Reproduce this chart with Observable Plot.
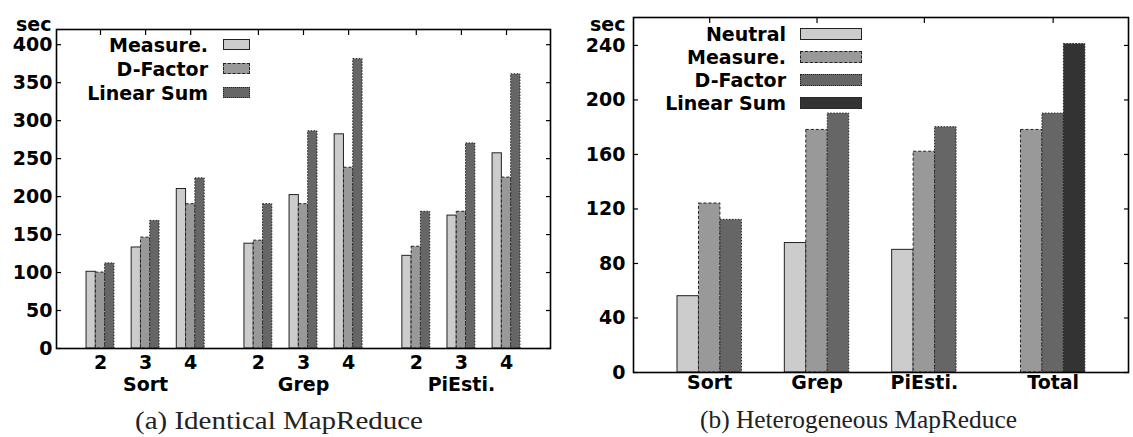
<!DOCTYPE html>
<html>
<head>
<meta charset="utf-8">
<script src="https://cdn.jsdelivr.net/npm/d3@7"></script>
<script src="https://cdn.jsdelivr.net/npm/@observablehq/plot@0.6"></script>
<style>
  html, body { margin: 0; padding: 0; background: #fff; }
  #wrap { position: relative; width: 1133px; height: 437px; overflow: hidden; background: #fff; }
  .panel { position: absolute; top: 0; }
  .lg-text { position: absolute; text-align: right; font-family: "DejaVu Sans"; font-weight: bold; font-size: 19px; line-height: 22px; height: 22px; white-space: nowrap; color: #000; }
  .lg-swatch { position: absolute; box-sizing: border-box; border-width: 1px; border-color: #222; }
</style>
</head>
<body>
<div id="wrap"></div>
<script>
// ---------- Data: (a) Identical MapReduce ----------
const leftGroups = ["Sort", "Grep", "PiEsti."];
const leftNodes = ["2", "3", "4"];
const leftSeries = ["Measure.", "D-Factor", "Linear Sum"];
const leftMeasure = [101, 133, 210, 138, 202, 282, 122, 175, 257];
const leftDFactor = [100, 146, 190, 142, 190, 238, 134, 180, 225];
const leftLinear  = [112, 168, 224, 190, 286, 381, 180, 270, 361];
const leftYTicks = [0, 50, 100, 150, 200, 250, 300, 350, 400];
const leftCaption = "(a) Identical MapReduce";

// ---------- Data: (b) Heterogeneous MapReduce ----------
const rightCategories = ["Sort", "Grep", "PiEsti.", "Total"];
const rightSeries = ["Neutral", "Measure.", "D-Factor", "Linear Sum"];
const rightNeutral = [56, 95, 90, null];
const rightMeasure = [124, 178, 162, 178];
const rightDFactor = [112, 190, 180, 190];
const rightLinear  = [null, null, null, 241];
const rightYTicks = [0, 40, 80, 120, 160, 200, 240];
const rightCaption = "(b) Heterogeneous MapReduce";

const unitLabel = "sec";

// ---------- Styles ----------
const leftColors = ["#cccccc", "#999999", "#666666"];
const leftDash = [null, "3,2", "1.5,1.5"];
const leftBorder = ["solid", "dashed", "dotted"];
const rightColors = ["#cccccc", "#999999", "#666666", "#333333"];
const rightDash = [null, "3,2", "1.5,1.5", "1.5,1.5"];
const rightBorder = ["solid", "dashed", "dotted", "dotted"];

const wrap = document.getElementById("wrap");
const svgStyle = {fontFamily: "DejaVu Sans", fontSize: "19px", fontWeight: "bold", color: "#000", background: "transparent", overflow: "visible"};

// ---------- Left chart ----------
{
  const values = [leftMeasure, leftDFactor, leftLinear];
  const groupGap = 0.5;
  const bw = 0.206;
  const rows = [];
  const tickPos = [], tickLab = new Map();
  leftGroups.forEach((g, gi) => {
    const ps = [];
    leftNodes.forEach((n, ni) => {
      const pos = gi * (leftNodes.length + groupGap) + ni;
      ps.push(pos);
      tickPos.push(pos); tickLab.set(pos, n);
      leftSeries.forEach((s, si) => {
        rows.push({group: g, node: n, series: s, si, pos, value: values[si][gi * leftNodes.length + ni]});
      });
    });
    // group name is written under the middle node label (same centre)
    const c = d3.mean(ps);
    tickLab.set(c, (tickLab.get(c) ?? "") + "\n" + g);
  });
  const mid = (leftSeries.length - 1) / 2;
  const plot = Plot.plot({
    width: 567, height: 395,
    marginLeft: 56, marginRight: 17, marginTop: 29, marginBottom: 47,
    style: svgStyle,
    x: {domain: [-0.975, 9.975], label: null},
    y: {domain: [0, 420], label: null},
    marks: [
      ...leftSeries.map((s, si) => Plot.rect(rows.filter(d => d.si === si), {
        x1: d => d.pos + (d.si - mid) * bw - bw / 2,
        x2: d => d.pos + (d.si - mid) * bw + bw / 2,
        y1: d => 0, y2: "value",
        fill: leftColors[si], stroke: "#222", strokeWidth: 1, strokeDasharray: leftDash[si]
      })),
      Plot.frame({stroke: "#000", strokeWidth: 1.6}),
      Plot.axisY({ticks: leftYTicks, tickSize: 0, tickPadding: 4, label: null}),
      Plot.axisY({anchor: "left", ticks: leftYTicks, tickSize: 5, dx: 5, fill: "none", label: null, strokeWidth: 1.2}),
      Plot.axisY({anchor: "right", ticks: leftYTicks, tickSize: 5, dx: -5, fill: "none", label: null, strokeWidth: 1.2}),
      Plot.axisX({anchor: "top", ticks: tickPos, tickSize: 5, dy: 5, fill: "none", label: null, strokeWidth: 1.2}),
      Plot.axisX({anchor: "bottom", ticks: tickPos, tickFormat: p => tickLab.get(p), tickSize: 0, tickPadding: 4.5, lineHeight: 1.17, label: null}),
      Plot.text([unitLabel], {frameAnchor: "top-left", text: d => d, textAnchor: "end", dx: -5, dy: -12})
    ]
  });
  const div = document.createElement("div");
  div.className = "panel"; div.style.left = "0px"; div.style.width = "567px";
  div.appendChild(plot);
  wrap.appendChild(div);
}

// ---------- Right chart ----------
{
  const values = [rightNeutral, rightMeasure, rightDFactor, rightLinear];
  const rows = [];
  const catPos = [], catLab = new Map();
  rightCategories.forEach((c, ci) => {
    const slots = [];
    rightSeries.forEach((s, si) => {
      const v = values[si][ci];
      const slot = ci * (rightSeries.length + 1) + si;
      if (v != null) { rows.push({cat: c, series: s, si, slot, value: v}); slots.push(slot); }
    });
    const m = d3.mean(slots);
    catPos.push(m); catLab.set(m, c);
  });
  const plot = Plot.plot({
    width: 566, height: 402,
    marginLeft: 66, marginRight: 5, marginTop: 17, marginBottom: 30,
    style: svgStyle,
    x: {domain: [-2.55, 20.51], label: null},
    y: {domain: [0, 260.5], label: null},
    marks: [
      ...rightSeries.map((s, si) => Plot.rect(rows.filter(d => d.si === si), {
        x1: d => d.slot - 0.5, x2: d => d.slot + 0.5,
        y1: d => 0, y2: "value",
        fill: rightColors[si], stroke: "#222", strokeWidth: 1, strokeDasharray: rightDash[si]
      })),
      Plot.frame({stroke: "#000", strokeWidth: 1.6}),
      Plot.axisY({ticks: rightYTicks, tickSize: 0, tickPadding: 8, label: null}),
      Plot.axisY({anchor: "left", ticks: rightYTicks, tickSize: 5, dx: 5, fill: "none", label: null, strokeWidth: 1.2}),
      Plot.axisY({anchor: "right", ticks: rightYTicks, tickSize: 5, dx: -5, fill: "none", label: null, strokeWidth: 1.2}),
      Plot.axisX({anchor: "top", ticks: catPos, tickSize: 5, dy: 5, fill: "none", label: null, strokeWidth: 1.2}),
      Plot.axisX({anchor: "bottom", ticks: catPos, tickFormat: p => catLab.get(p), tickSize: 0, tickPadding: 3, label: null}),
      Plot.text([unitLabel], {frameAnchor: "top-left", text: d => d, textAnchor: "end", dx: -8, dy: 0})
    ]
  });
  const div = document.createElement("div");
  div.className = "panel"; div.style.left = "567px"; div.style.width = "566px";
  div.appendChild(plot);
  wrap.appendChild(div);
}

// ---------- Legends (HTML, placed over the plots) ----------
function addLegend(names, colors, borders, o) {
  const boxW = 128;
  names.forEach((name, i) => {
    const cy = o.top0 + i * o.step;
    const t = document.createElement("div");
    t.className = "lg-text";
    t.textContent = name;
    t.style.left = (o.textRight - boxW) + "px";
    t.style.width = boxW + "px";
    t.style.top = (cy - 11) + "px";
    wrap.appendChild(t);
    const sw = document.createElement("div");
    sw.className = "lg-swatch";
    sw.style.left = o.swatchLeft + "px";
    sw.style.width = o.swatchW + "px";
    sw.style.height = o.swatchH + "px";
    sw.style.top = (cy - o.swatchH / 2) + "px";
    sw.style.background = colors[i];
    sw.style.borderStyle = borders[i];
    wrap.appendChild(sw);
  });
}
addLegend(leftSeries, leftColors, leftBorder, {top0: 44.5, step: 24, textRight: 208, swatchLeft: 223, swatchW: 27, swatchH: 11});
addLegend(rightSeries, rightColors, rightBorder, {top0: 33.8, step: 23.2, textRight: 786, swatchLeft: 800, swatchW: 62, swatchH: 12});

// ---------- Captions ----------
function addCaption(text, cx, baseline, len) {
  const ns = "http://www.w3.org/2000/svg";
  const svg = document.createElementNS(ns, "svg");
  svg.setAttribute("width", len + 20); svg.setAttribute("height", 40);
  svg.style.position = "absolute";
  svg.style.left = (cx - len / 2 - 10) + "px";
  svg.style.top = (baseline - 30) + "px";
  const t = document.createElementNS(ns, "text");
  t.setAttribute("x", 10);
  t.setAttribute("y", 30);
  t.setAttribute("textLength", len);
  t.setAttribute("lengthAdjust", "spacingAndGlyphs");
  t.setAttribute("font-family", "Liberation Serif");
  t.setAttribute("font-size", 25);
  t.setAttribute("fill", "#222");
  t.textContent = text;
  svg.appendChild(t);
  wrap.appendChild(svg);
}
addCaption(leftCaption, 279, 429, 288);
addCaption(rightCaption, 858, 428, 317);
</script>
</body>
</html>
